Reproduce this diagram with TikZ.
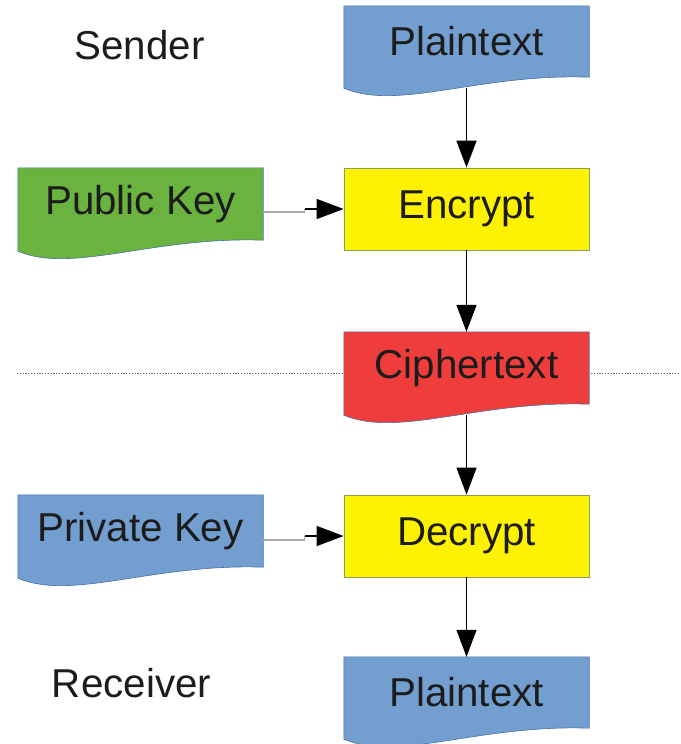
\documentclass[tikz,border=0pt]{standalone}
\usepackage{fontspec}
\setmainfont{Liberation Sans}
\usetikzlibrary{calc,arrows.meta,backgrounds}
\definecolor{docblue}{HTML}{729FCF}
\definecolor{docgreen}{HTML}{6AB33F}
\definecolor{docred}{HTML}{EE3D3B}
\definecolor{docedge}{HTML}{4A6FA0}
\definecolor{procedge}{HTML}{8C9C5C}
\definecolor{inkgray}{HTML}{1C1C1C}
\tikzset{
  label text/.style={font=\fontsize{40.3}{40.3}\selectfont, text=inkgray},
  docbox/.style={rectangle, minimum width=245pt, minimum height=#1, inner sep=0pt, label text},
  docbox/.default=71pt,
  procbox/.style={rectangle, draw=procedge, line width=0.8pt, fill=yellow,
    minimum width=245pt, minimum height=82pt, inner sep=0pt, label text},
  sidetext/.style={inner sep=0pt, label text},
  docfill/.style={fill=#1, draw=docedge, line width=0.6pt},
  flow/.style={-{Triangle[length=27pt,width=20pt]}, line width=1.4pt, black},
  feed/.style={draw=gray!65, line width=1.3pt},
  divider/.style={draw=gray!80!black, line width=0.9pt, dash pattern=on 1.2pt off 1.6pt},
}
% Document shape: straight top and sides, wavy bottom edge
\newcommand{\docshape}[2]{%
  \path[docfill=#2] (#1.north west) -- (#1.north east) -- (#1.south east)
    .. controls ($(#1.south east)+(-110,-4)$) and ($(#1.south west)+(55,34)$)
    .. ($(#1.south west)+(0,11)$) -- cycle;}
\begin{document}
\begin{tikzpicture}[x=1pt,y=-1pt]
  \useasboundingbox (0,0) rectangle (680,744);

  % side labels
  \node[sidetext] (sender) at (139.5,45) {Sender};
  \node[sidetext] (receiver) at (131.5,683) {Receiver};

  % main flow
  \node[docbox] (plainA) at (466.5,41.5) {Plaintext};
  \node[procbox] (enc) at (466.5,209) {Encrypt};
  \node[docbox=72pt] (cipher) at (466.5,368) {Ciphertext};
  \node[procbox] (dec) at (466.5,536) {Decrypt};
  \node[docbox] (plainB) at (466.5,692.5) {Plaintext};

  % keys
  \node[docbox=72pt] (pub) at (140.5,204) {Public Key};
  \node[docbox=72pt] (priv) at (140.5,531) {Private Key};

  \begin{scope}[on background layer]
    \fill[white] (0,0) rectangle (680,744);
    \coordinate (divL) at (17,373);
    \coordinate (divR) at (680,373);
    \draw[divider] (divL) -- (divR);
    \docshape{plainA}{docblue}
    \docshape{cipher}{docred}
    \docshape{plainB}{docblue}
    \docshape{pub}{docgreen}
    \docshape{priv}{docblue}
  \end{scope}

  % vertical connectors
  \draw[flow] ($(plainA.south)+(0,11)$) -- (enc.north);
  \draw[flow] (enc.south) -- (cipher.north);
  \draw[flow] ($(cipher.south)+(0,11)$) -- (dec.north);
  \draw[flow] (dec.south) -- (plainB.north);

  % key connectors with a small jog
  \coordinate (encJogLow) at ($(enc.west)+(-39,3)$);
  \coordinate (encJog) at ($(enc.west)+(-39,0)$);
  \draw[feed] ($(pub.east)+(0,8)$) -- (encJogLow) -- (encJog);
  \draw[flow] (encJog) -- (enc.west);

  \coordinate (decJogLow) at ($(dec.west)+(-39,4)$);
  \coordinate (decJog) at ($(dec.west)+(-39,0)$);
  \draw[feed] ($(priv.east)+(0,9)$) -- (decJogLow) -- (decJog);
  \draw[flow] (decJog) -- (dec.west);
\end{tikzpicture}
\end{document}
